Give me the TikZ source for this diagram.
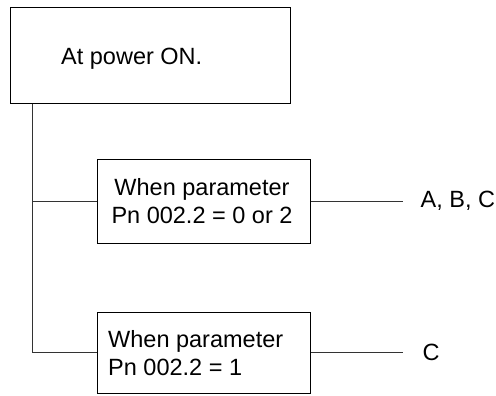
\documentclass[tikz,border=0pt]{standalone}
\usepackage{fontspec}
\setmainfont{Liberation Sans}
\usetikzlibrary{positioning}
\tikzset{
  stepbox/.style={draw=black,line width=1pt,minimum width=213pt,inner sep=0pt},
  wire/.style={draw=black!80,line width=1pt},
  boxtext/.style={font=\fontsize{23.5}{28}\selectfont,inner sep=0pt},
}
\begin{document}
\begin{tikzpicture}[x=1pt,y=-1pt]
 \useasboundingbox (0,0) rectangle (496,396);
 % boxes
 \node[stepbox,minimum width=280pt,minimum height=96pt] (power) at (150,56) {};
 \node[boxtext,anchor=base west] (powertxt) at (61,65) {At power ON.};
 \node[stepbox,minimum height=84pt] (modeA) at (203.5,201) {};
 \node[boxtext,align=center,anchor=base] (modeAtxt) at (202,223) {When parameter\\Pn 002.2 = 0 or 2};
 \node[stepbox,minimum height=81pt] (modeB) at (203.5,352.5) {};
 \node[boxtext,align=left,anchor=base west] (modeBtxt) at (108,375) {When parameter\\Pn 002.2 = 1};
 % connectors
 \coordinate (tap) at ([xshift=23pt]power.south west);
 \draw[wire] (tap) |- (modeB.west);
 \draw[wire] (tap |- modeA.west) -- (modeA.west);
 \coordinate (endA) at ([xshift=92pt]modeA.east);
 \coordinate (endB) at ([xshift=92pt]modeB.east);
 \draw[wire] (modeA.east) -- (endA);
 \draw[wire] (modeB.east) -- (endB);
 \node[boxtext,right=18pt of endA] (outA) {A, B, C};
 \node[boxtext,right=20pt of endB] (outB) {C};
\end{tikzpicture}
\end{document}
